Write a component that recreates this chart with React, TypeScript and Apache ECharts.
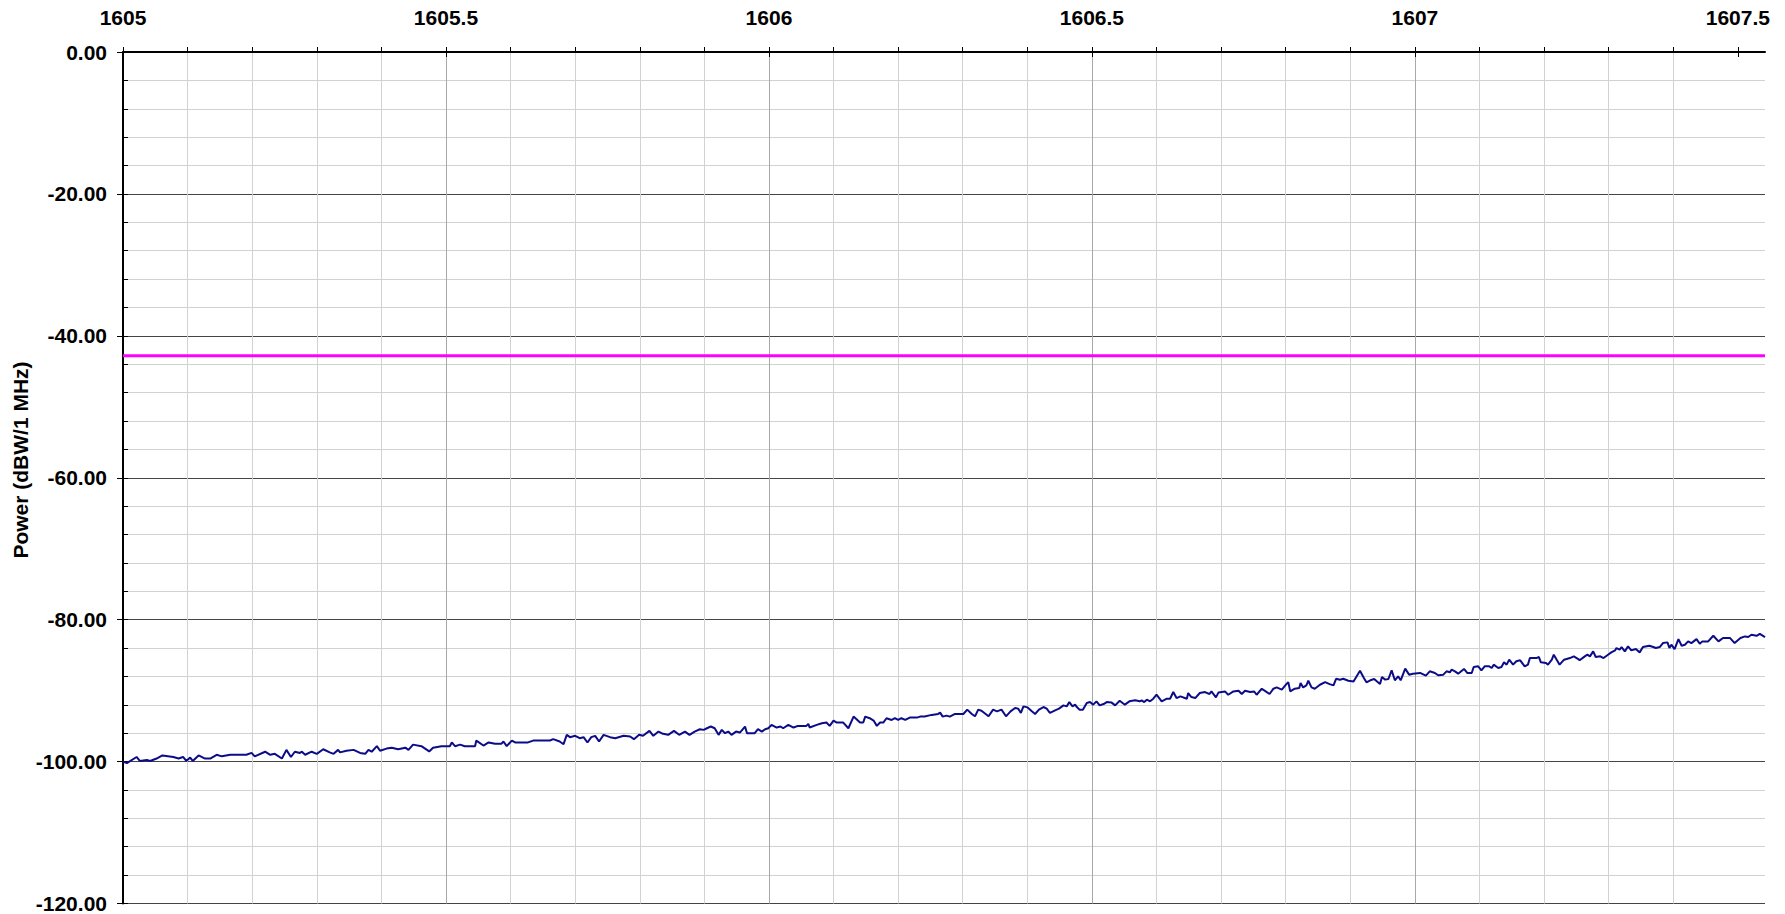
import React, { useEffect, useRef } from "react";
import * as echarts from "echarts";

// Frequency (MHz) / power (dBW/1 MHz) trace in four pieces
const traceA: number[][] = [
  [1605.000, -100.00], [1605.006, -100.22], [1605.021, -99.35], [1605.026, -99.91], [1605.037, -99.78],
  [1605.042, -99.91], [1605.052, -99.57], [1605.061, -99.13], [1605.078, -99.35], [1605.086, -99.57],
  [1605.093, -99.35], [1605.098, -99.91], [1605.104, -99.43], [1605.108, -99.91], [1605.117, -99.13],
  [1605.127, -99.57], [1605.135, -99.57], [1605.145, -99.04], [1605.153, -99.26], [1605.166, -99.04],
  [1605.191, -99.04], [1605.199, -98.78], [1605.204, -99.26], [1605.220, -98.61], [1605.228, -99.04],
  [1605.235, -98.91], [1605.246, -99.57], [1605.253, -98.35], [1605.260, -99.35], [1605.266, -98.61],
  [1605.274, -98.78], [1605.277, -98.61], [1605.282, -99.04], [1605.292, -98.61], [1605.300, -98.91],
  [1605.310, -98.26], [1605.320, -98.70], [1605.326, -98.91], [1605.333, -98.35], [1605.336, -98.70],
  [1605.346, -98.48], [1605.357, -98.35], [1605.367, -98.78], [1605.375, -98.91], [1605.380, -98.35],
  [1605.385, -98.61], [1605.393, -97.83], [1605.398, -98.48], [1605.408, -98.17], [1605.416, -98.04],
  [1605.426, -98.26], [1605.437, -98.04], [1605.442, -98.35], [1605.449, -97.61], [1605.462, -97.83],
  [1605.474, -98.57], [1605.480, -98.04], [1605.493, -97.83], [1605.506, -97.83], [1605.509, -97.30],
  [1605.514, -97.83], [1605.522, -97.61], [1605.529, -97.83], [1605.545, -97.83], [1605.547, -97.04],
  [1605.558, -97.74], [1605.566, -97.30], [1605.576, -97.48], [1605.586, -97.48], [1605.589, -97.17],
  [1605.594, -97.83], [1605.602, -97.04], [1605.607, -97.30], [1605.627, -97.30], [1605.635, -97.04],
  [1605.645, -97.04],
];

const traceB: number[][] = [
  [1605.661, -97.03], [1605.666, -96.84], [1605.676, -97.17], [1605.682, -97.55], [1605.687, -96.23],
  [1605.692, -96.56], [1605.700, -96.37], [1605.707, -96.70], [1605.713, -96.56], [1605.719, -97.31],
  [1605.725, -96.56], [1605.731, -96.37], [1605.737, -97.17], [1605.744, -96.23], [1605.754, -96.56],
  [1605.762, -96.70], [1605.775, -96.37], [1605.785, -96.47], [1605.791, -96.84], [1605.799, -96.23],
  [1605.805, -96.37], [1605.815, -95.67], [1605.821, -96.37], [1605.829, -95.77], [1605.836, -96.09],
  [1605.844, -96.23], [1605.853, -95.67], [1605.861, -96.23], [1605.870, -95.77], [1605.877, -96.23],
  [1605.885, -95.77], [1605.893, -95.44], [1605.899, -95.53], [1605.904, -95.30], [1605.910, -95.06],
  [1605.916, -95.30], [1605.922, -96.23], [1605.927, -95.53], [1605.932, -96.00], [1605.937, -95.77],
  [1605.942, -96.23], [1605.949, -95.77], [1605.955, -95.91], [1605.963, -95.06], [1605.966, -96.00],
  [1605.978, -96.00], [1605.983, -95.44], [1605.989, -95.77], [1605.994, -95.44], [1605.999, -95.30],
  [1606.004, -94.83], [1606.012, -95.20], [1606.018, -95.06], [1606.022, -95.30], [1606.030, -94.83],
  [1606.038, -95.20], [1606.045, -94.97], [1606.058, -94.97], [1606.061, -94.69], [1606.063, -95.20],
  [1606.074, -94.83], [1606.082, -94.59], [1606.089, -94.50], [1606.094, -94.97], [1606.100, -94.22],
  [1606.105, -94.50], [1606.115, -94.50], [1606.123, -95.30], [1606.131, -93.66], [1606.141, -94.50],
  [1606.146, -94.50], [1606.149, -93.66], [1606.156, -93.89], [1606.162, -94.22], [1606.167, -94.97],
  [1606.172, -94.50], [1606.177, -94.50], [1606.182, -93.89], [1606.190, -94.13], [1606.195, -93.89],
  [1606.200, -94.13], [1606.205, -93.89], [1606.211, -94.13], [1606.218, -93.80], [1606.229, -93.80],
  [1606.234, -93.66], [1606.241, -93.66], [1606.252, -93.42], [1606.262, -93.28], [1606.265, -93.10],
  [1606.269, -93.66], [1606.275, -93.52], [1606.280, -93.66],
];

const traceC: number[][] = [
  [1606.288, -93.29], [1606.301, -93.29], [1606.307, -92.68], [1606.314, -93.29], [1606.319, -93.62],
  [1606.324, -92.68], [1606.329, -92.83], [1606.340, -93.62], [1606.347, -92.68], [1606.353, -92.92],
  [1606.360, -92.68], [1606.367, -93.62], [1606.374, -92.92], [1606.381, -92.45], [1606.386, -92.54],
  [1606.390, -93.15], [1606.394, -92.22], [1606.400, -92.36], [1606.407, -92.92], [1606.412, -93.29],
  [1606.418, -92.68], [1606.425, -92.31], [1606.430, -92.54], [1606.435, -93.15], [1606.443, -92.78],
  [1606.449, -92.54], [1606.456, -92.08], [1606.461, -92.22], [1606.465, -91.61], [1606.470, -92.22],
  [1606.474, -91.98], [1606.477, -92.36], [1606.481, -92.68], [1606.486, -92.68], [1606.492, -91.74],
  [1606.497, -91.61], [1606.502, -91.98], [1606.507, -91.51], [1606.512, -92.08], [1606.518, -91.89],
  [1606.523, -91.61], [1606.530, -91.66], [1606.536, -92.08], [1606.543, -91.42], [1606.551, -91.98],
  [1606.558, -91.51], [1606.567, -91.37], [1606.574, -91.51], [1606.577, -91.37], [1606.581, -91.61],
  [1606.585, -91.28], [1606.590, -91.51], [1606.595, -91.14], [1606.600, -90.58], [1606.608, -91.51],
  [1606.616, -91.14], [1606.621, -91.14], [1606.626, -90.20], [1606.631, -91.05], [1606.637, -90.81],
  [1606.647, -91.14], [1606.649, -90.34], [1606.654, -90.90], [1606.660, -91.05], [1606.667, -90.34],
  [1606.675, -90.20], [1606.682, -90.48], [1606.685, -90.11], [1606.692, -90.95], [1606.696, -90.25],
  [1606.706, -90.11], [1606.711, -90.58], [1606.719, -90.11], [1606.727, -90.01], [1606.732, -90.48],
  [1606.737, -90.01], [1606.745, -90.20], [1606.751, -90.11], [1606.755, -90.58], [1606.763, -89.73],
  [1606.769, -90.11], [1606.775, -90.48], [1606.781, -89.73], [1606.786, -89.55], [1606.794, -89.87],
  [1606.801, -89.08], [1606.804, -88.80], [1606.807, -90.11], [1606.814, -89.73], [1606.821, -89.64],
  [1606.823, -88.94], [1606.827, -89.55], [1606.832, -89.26], [1606.835, -88.61], [1606.840, -89.55],
  [1606.845, -89.73], [1606.853, -89.17], [1606.861, -88.80], [1606.868, -89.08], [1606.874, -89.26],
  [1606.878, -88.33], [1606.884, -88.47], [1606.889, -88.33], [1606.897, -88.61], [1606.905, -88.70],
  [1606.915, -87.20],
];

const traceD: number[][] = [
  [1606.921, -88.22], [1606.925, -88.83], [1606.931, -88.54], [1606.937, -88.36], [1606.941, -88.69],
  [1606.946, -89.06], [1606.949, -88.08], [1606.954, -88.45], [1606.959, -88.36], [1606.964, -87.14],
  [1606.969, -88.54], [1606.974, -87.98], [1606.978, -88.54], [1606.985, -86.90], [1606.991, -87.75],
  [1606.997, -87.61], [1607.008, -87.51], [1607.017, -87.89], [1607.023, -87.28], [1607.031, -87.51],
  [1607.036, -87.84], [1607.044, -87.75], [1607.049, -87.28], [1607.054, -87.42], [1607.057, -87.05],
  [1607.062, -87.28], [1607.067, -87.61], [1607.076, -86.95], [1607.081, -87.51], [1607.088, -87.51],
  [1607.091, -86.67], [1607.098, -86.58], [1607.103, -87.14], [1607.108, -86.58], [1607.115, -86.58],
  [1607.119, -86.81], [1607.122, -86.34], [1607.129, -86.81], [1607.134, -86.67], [1607.138, -86.01],
  [1607.142, -86.34], [1607.146, -85.64], [1607.152, -86.34], [1607.157, -85.87], [1607.163, -85.73],
  [1607.170, -86.58], [1607.175, -86.34], [1607.178, -85.41], [1607.188, -85.41], [1607.192, -85.26],
  [1607.195, -86.01], [1607.203, -86.11], [1607.206, -86.34], [1607.212, -85.64], [1607.215, -84.94],
  [1607.220, -85.73], [1607.224, -86.34], [1607.231, -85.64], [1607.240, -85.41], [1607.246, -85.17],
  [1607.253, -85.55], [1607.255, -85.73], [1607.263, -85.17], [1607.267, -84.94], [1607.271, -85.17],
  [1607.276, -84.47], [1607.280, -85.26], [1607.287, -85.17], [1607.292, -85.41], [1607.299, -84.94],
  [1607.304, -84.61], [1607.310, -84.33], [1607.312, -84.00], [1607.317, -84.23], [1607.320, -83.86],
  [1607.325, -84.47], [1607.330, -83.77], [1607.335, -84.33], [1607.342, -84.14], [1607.348, -84.61],
  [1607.353, -83.86], [1607.363, -83.67], [1607.369, -83.86], [1607.373, -84.00], [1607.379, -83.86],
  [1607.384, -83.30], [1607.391, -83.20], [1607.394, -84.00], [1607.397, -83.53], [1607.402, -84.14],
  [1607.408, -82.74], [1607.413, -83.67], [1607.418, -83.53], [1607.423, -83.06], [1607.428, -83.30],
  [1607.436, -82.74], [1607.441, -83.39], [1607.445, -83.06], [1607.454, -83.06], [1607.462, -82.27],
  [1607.470, -83.06], [1607.477, -82.59], [1607.488, -82.59], [1607.495, -83.30], [1607.504, -82.59],
  [1607.511, -82.36], [1607.516, -82.45], [1607.521, -82.13], [1607.529, -82.27], [1607.534, -81.99],
  [1607.542, -82.45],
];

// Mask level (magenta line)
const maskLevel = -42.8;

// Axis ranges and ticks
const freqMin = 1605;
const freqMax = 1607.542;
const powerMin = -120;
const powerMax = 0;
const freqLabelTicks = [1605, 1605.5, 1606, 1606.5, 1607, 1607.5];
const freqMinorTicks = [
  1605.0, 1605.1, 1605.2, 1605.3, 1605.4, 1605.5, 1605.6, 1605.7, 1605.8, 1605.9,
  1606.0, 1606.1, 1606.2, 1606.3, 1606.4, 1606.5, 1606.6, 1606.7, 1606.8, 1606.9,
  1607.0, 1607.1, 1607.2, 1607.3, 1607.4, 1607.5,
];
const yAxisTitle = "Power (dBW/1 MHz)";

const FONT = "'Liberation Sans', Arial, Helvetica, sans-serif";

export default function App() {
  const ref = useRef<HTMLDivElement>(null);

  useEffect(() => {
    if (!ref.current) return;
    const chart = echarts.init(ref.current, null, { renderer: "svg" });
    const trace = [...traceA, ...traceB, ...traceC, ...traceD];

    chart.setOption({
      animation: false,
      backgroundColor: "#ffffff",
      grid: { left: 123, top: 52, right: 20, bottom: 8, containLabel: false },
      xAxis: [
        {
          type: "value",
          position: "top",
          min: freqMin,
          max: freqMax,
          interval: 0.1,
          axisLine: { show: true, onZero: false, lineStyle: { color: "#000", width: 2 } },
          axisTick: { show: true, inside: false, length: 5, customValues: freqMinorTicks, lineStyle: { color: "#000", width: 1 } },
          axisLabel: { show: false },
          splitLine: {
            show: true,
            showMaxLine: false,
            lineStyle: { color: ["#a8a8a8", "#d2d2d2", "#d2d2d2", "#d2d2d2", "#d2d2d2"], width: 1 },
          },
        },
        {
          type: "value",
          position: "top",
          min: freqMin,
          max: freqMax,
          interval: 0.5,
          axisLine: { show: false, onZero: false },
          axisTick: { show: true, inside: true, length: 5, customValues: freqLabelTicks, lineStyle: { color: "#000", width: 1 } },
          axisLabel: {
            show: true,
            customValues: freqLabelTicks,
            margin: 24,
            fontFamily: FONT,
            fontWeight: "bold",
            fontSize: 21,
            color: "#000",
            formatter: (v: number) => String(v),
          },
          splitLine: { show: false },
        },
      ],
      yAxis: [
        {
          type: "value",
          position: "left",
          min: powerMin,
          max: powerMax,
          interval: 4,
          axisLine: { show: true, onZero: false, lineStyle: { color: "#000", width: 2 } },
          axisTick: { show: true, inside: true, length: 5, lineStyle: { color: "#000", width: 1 } },
          axisLabel: { show: false },
          splitLine: {
            show: true,
            lineStyle: { color: ["#444444", "#d2d2d2", "#d2d2d2", "#d2d2d2", "#d2d2d2"], width: 1 },
          },
        },
        {
          type: "value",
          position: "left",
          min: powerMin,
          max: powerMax,
          interval: 20,
          axisLine: { show: false, onZero: false },
          axisTick: { show: true, inside: false, length: 6, lineStyle: { color: "#000", width: 1 } },
          axisLabel: {
            show: true,
            margin: 16,
            fontFamily: FONT,
            fontWeight: "bold",
            fontSize: 21,
            color: "#000",
            formatter: (v: number) => v.toFixed(2),
          },
          splitLine: { show: false },
        },
      ],
      graphic: [
        {
          type: "text",
          x: 20,
          y: 460,
          rotation: Math.PI / 2,
          style: {
            text: yAxisTitle,
            fontFamily: FONT,
            fontWeight: "bold",
            fontSize: 21,
            fill: "#000",
            align: "center",
            verticalAlign: "middle",
          },
        },
      ],
      series: [
        {
          name: "Mask",
          type: "line",
          xAxisIndex: 0,
          yAxisIndex: 0,
          data: [[freqMin, maskLevel], [freqMax, maskLevel]],
          showSymbol: false,
          lineStyle: { color: "#ff00ff", width: 3 },
          z: 3,
        },
        {
          name: "Power",
          type: "line",
          xAxisIndex: 0,
          yAxisIndex: 0,
          data: trace,
          showSymbol: false,
          lineStyle: { color: "#0c0c88", width: 2 },
          z: 4,
        },
      ],
    });

    return () => chart.dispose();
  }, []);

  return (
    <div
      ref={ref}
      style={{ position: "absolute", left: 0, top: 0, width: 1785, height: 914 }}
    />
  );
}
